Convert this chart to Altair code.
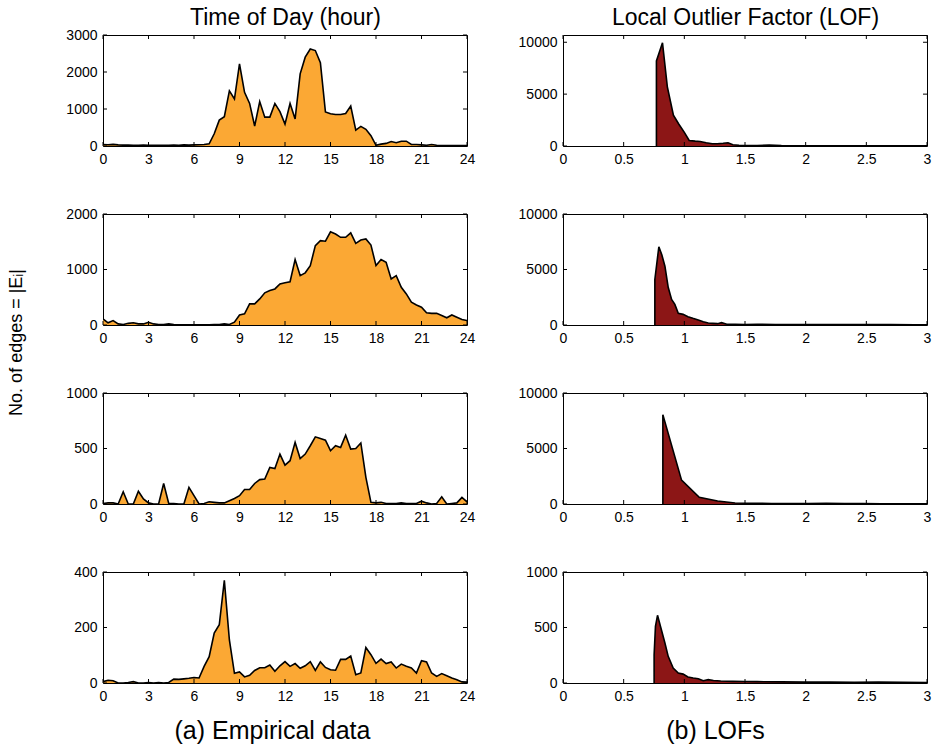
import altair as alt
import pandas as pd

FONT = "Liberation Sans"
ORANGE = "#FBA834"
DARKRED = "#8C1616"
W, H = 364, 111

# ---------- left column: edges per 20-minute bin over the day ----------
HOURS = [i / 3 for i in range(73)]

DAY1 = [40, 35, 45, 30, 25, 25, 20, 20, 25, 20, 20, 20, 20, 20, 25, 20, 30, 25, 30, 35, 40,
        60, 330, 700, 790, 1490, 1270, 2220, 1450, 1150, 540, 1200, 780, 780, 1150, 930,
        590, 1150, 730, 1950, 2400, 2620, 2580, 2250, 920, 870, 850, 850, 880, 1080, 430,
        530, 450, 280, 20, 50, 70, 120, 90, 130, 130, 40, 40, 30, 20, 40, 20, 15, 15, 15,
        15, 15, 15]
DAY2 = [110, 40, 80, 20, 10, 30, 40, 20, 20, 50, 20, 10, 10, 20, 10, 5, 5, 5, 5, 5, 5, 5,
        10, 10, 20, 10, 50, 180, 200, 380, 380, 470, 580, 620, 650, 740, 760, 780, 1180,
        890, 940, 1070, 1430, 1520, 1510, 1680, 1640, 1580, 1580, 1660, 1470, 1530, 1550,
        1440, 1070, 1180, 1130, 830, 890, 680, 560, 410, 360, 320, 220, 210, 210, 170, 130,
        180, 140, 100, 80]
DAY3 = [5, 10, 10, 0, 110, 0, 0, 115, 45, 10, 0, 0, 185, 5, 5, 0, 0, 150, 75, 0, 5, 20, 15,
        10, 10, 30, 50, 75, 130, 130, 185, 220, 225, 330, 320, 450, 350, 390, 555, 410, 450,
        525, 605, 590, 575, 480, 525, 510, 620, 495, 500, 550, 240, 15, 10, 15, 5, 5, 5, 10,
        5, 5, 5, 25, 10, 0, 5, 65, 0, 5, 10, 60, 20]
DAY4 = [5, 10, 8, 0, 0, 2, 5, 0, 0, 2, 0, 2, 0, 2, 14, 13, 15, 17, 20, 18, 60, 95, 180, 210,
        370, 155, 35, 40, 22, 28, 45, 55, 55, 65, 42, 62, 77, 60, 70, 53, 62, 77, 45, 76, 56,
        48, 46, 85, 85, 97, 30, 36, 128, 102, 71, 86, 70, 76, 54, 68, 60, 54, 36, 80, 76, 36,
        24, 34, 26, 18, 12, 4, 3]

# ---------- right column: LOF histograms ----------
LOF1_X = [0.77, 0.77, 0.82, 0.86, 0.91, 0.955, 1.0, 1.04, 1.09, 1.13, 1.18, 1.23, 1.27, 1.32,
          1.36, 1.40, 1.45, 1.5, 1.6, 1.7, 1.8, 1.9, 2.0, 2.2, 2.4, 2.6, 2.8, 3.0]
LOF1_Y = [0, 8200, 9950, 5700, 2980, 2100, 1320, 530, 470, 440, 310, 220, 220, 260, 310, 125,
          70, 50, 40, 90, 40, 30, 30, 25, 20, 20, 15, 15]
LOF2_X = [0.757, 0.757, 0.79, 0.815, 0.84, 0.867, 0.895, 0.922, 0.95, 0.99, 1.03, 1.07, 1.115,
          1.156, 1.197, 1.235, 1.274, 1.307, 1.35, 1.42, 1.5, 1.6, 1.75, 1.9, 2.1, 2.3, 2.5,
          2.7, 2.9, 3.0]
LOF2_Y = [0, 4100, 7050, 6300, 5300, 3400, 2300, 1860, 1050, 960, 750, 600, 450, 300, 180, 150,
          120, 210, 70, 60, 50, 60, 40, 40, 35, 30, 30, 35, 25, 20]
LOF3_X = [0.823, 0.823, 0.977, 1.123, 1.274, 1.418, 1.57, 1.72, 1.87, 2.02, 2.17, 2.32, 2.47,
          2.62, 2.77, 2.92, 3.0]
LOF3_Y = [0, 8050, 2150, 600, 270, 90, 60, 50, 40, 30, 55, 35, 30, 25, 25, 20, 20]
LOF4_X = [0.751, 0.751, 0.762, 0.779, 0.807, 0.84, 0.867, 0.908, 0.95, 0.99, 1.03, 1.073, 1.115,
          1.156, 1.197, 1.24, 1.3, 1.4, 1.5, 1.6, 1.8, 2.0, 2.2, 2.4, 2.6, 2.8, 3.0]
LOF4_Y = [0, 255, 510, 610, 495, 360, 240, 135, 90, 80, 54, 45, 39, 21, 30, 22, 18, 15, 14, 12,
          10, 8, 8, 7, 8, 6, 5]

HOUR_TICKS = [0, 3, 6, 9, 12, 15, 18, 21, 24]
LOF_TICKS = [0, 0.5, 1, 1.5, 2, 2.5, 3]
LEFT_Y = [([0, 3000], [0, 1000, 2000, 3000]),
          ([0, 2000], [0, 1000, 2000]),
          ([0, 1000], [0, 500, 1000]),
          ([0, 400], [0, 200, 400])]
RIGHT_Y = [([0, 10700], [0, 5000, 10000]),
           ([0, 10000], [0, 5000, 10000]),
           ([0, 10000], [0, 5000, 10000]),
           ([0, 1000], [0, 500, 1000])]

COL_TITLES = ["Time of Day (hour)", "Local Outlier Factor (LOF)"]
CAPTIONS = ["(a) Empirical data", "(b) LOFs"]
Y_LABEL = "No. of edges = |E\u1d62|"


def panel(xs, ys, xdom, xticks, xfmt, ydom, yticks, color,
          title=None, caption=None, caption_x=0, ylabel=None):
    df = pd.DataFrame({"x": xs, "y": ys})
    xaxis = dict(values=xticks, format=xfmt, labelPadding=6, labelFlush=False,
                 labelOverlap=False, title=None)
    if caption:
        xaxis.update(title=caption, titleX=caption_x, titleY=55, titleAlign="center",
                     titleBaseline="alphabetic", titleFontSize=25, titleAnchor="middle")
    yaxis = dict(values=yticks, format="d", labelPadding=6, labelFlush=False,
                 labelOverlap=False, title=None)
    if ylabel:
        yaxis.update(title=ylabel, titleX=-87, titleY=128, titleAngle=270,
                     titleAlign="center", titleBaseline="middle", titleFontSize=18)
    elif title:
        # column heading, carried by the y-axis title and placed above the panel
        yaxis.update(title=title, titleX=W / 2, titleY=-11, titleAngle=0,
                     titleAlign="center", titleBaseline="alphabetic", titleFontSize=23)
    X = alt.X("x:Q", scale=alt.Scale(domain=xdom, nice=False, zero=False),
              axis=alt.Axis(**xaxis))
    Y = alt.Y("y:Q", scale=alt.Scale(domain=ydom, nice=False), axis=alt.Axis(**yaxis))

    area = alt.Chart(df).mark_area(
        color=color, opacity=1, clip=True,
        line={"color": "black", "strokeWidth": 1.6},
    ).encode(x=X, y=Y)

    xt = pd.DataFrame({"x": xticks})
    yt = pd.DataFrame({"y": yticks})
    tick = dict(color="black", strokeWidth=1)
    bt = alt.Chart(xt).mark_rule(**tick).encode(x=X, y=alt.value(H), y2=alt.value(H - 4))
    tt = alt.Chart(xt).mark_rule(**tick).encode(x=X, y=alt.value(0), y2=alt.value(4))
    lt = alt.Chart(yt).mark_rule(**tick).encode(y=Y, x=alt.value(0), x2=alt.value(4))
    rt = alt.Chart(yt).mark_rule(**tick).encode(y=Y, x=alt.value(W - 4), x2=alt.value(W))

    return alt.layer(area, bt, tt, lt, rt).properties(width=W, height=H)


days = [DAY1, DAY2, DAY3, DAY4]
lofs = [(LOF1_X, LOF1_Y), (LOF2_X, LOF2_Y), (LOF3_X, LOF3_Y), (LOF4_X, LOF4_Y)]

cells = []
for i in range(4):
    cells.append(panel(
        HOURS, days[i], [0, 24], HOUR_TICKS, "d", LEFT_Y[i][0], LEFT_Y[i][1], ORANGE,
        title=COL_TITLES[0] if i == 0 else None,
        caption=CAPTIONS[0] if i == 3 else None, caption_x=169,
        ylabel=Y_LABEL if i == 1 else None))
    cells.append(panel(
        lofs[i][0], lofs[i][1], [0, 3], LOF_TICKS, "~g", RIGHT_Y[i][0], RIGHT_Y[i][1], DARKRED,
        title=COL_TITLES[1] if i == 0 else None,
        caption=CAPTIONS[1] if i == 3 else None, caption_x=152))

chart = alt.concat(
    *cells, columns=2, spacing=alt.RowColnumber(row=68, column=96), bounds="flush"
).configure_view(
    stroke="black", strokeWidth=1
).configure_axis(
    labelFont=FONT, labelFontSize=14, labelColor="black",
    titleFont=FONT, titleColor="black", titleFontWeight="normal",
    domain=False, ticks=False, grid=False,
).properties(
    padding={"left": 6, "top": 5, "right": 4, "bottom": 0},
    background="white",
)

chart.save("out.html", embed_options={"renderer": "svg", "actions": False})
